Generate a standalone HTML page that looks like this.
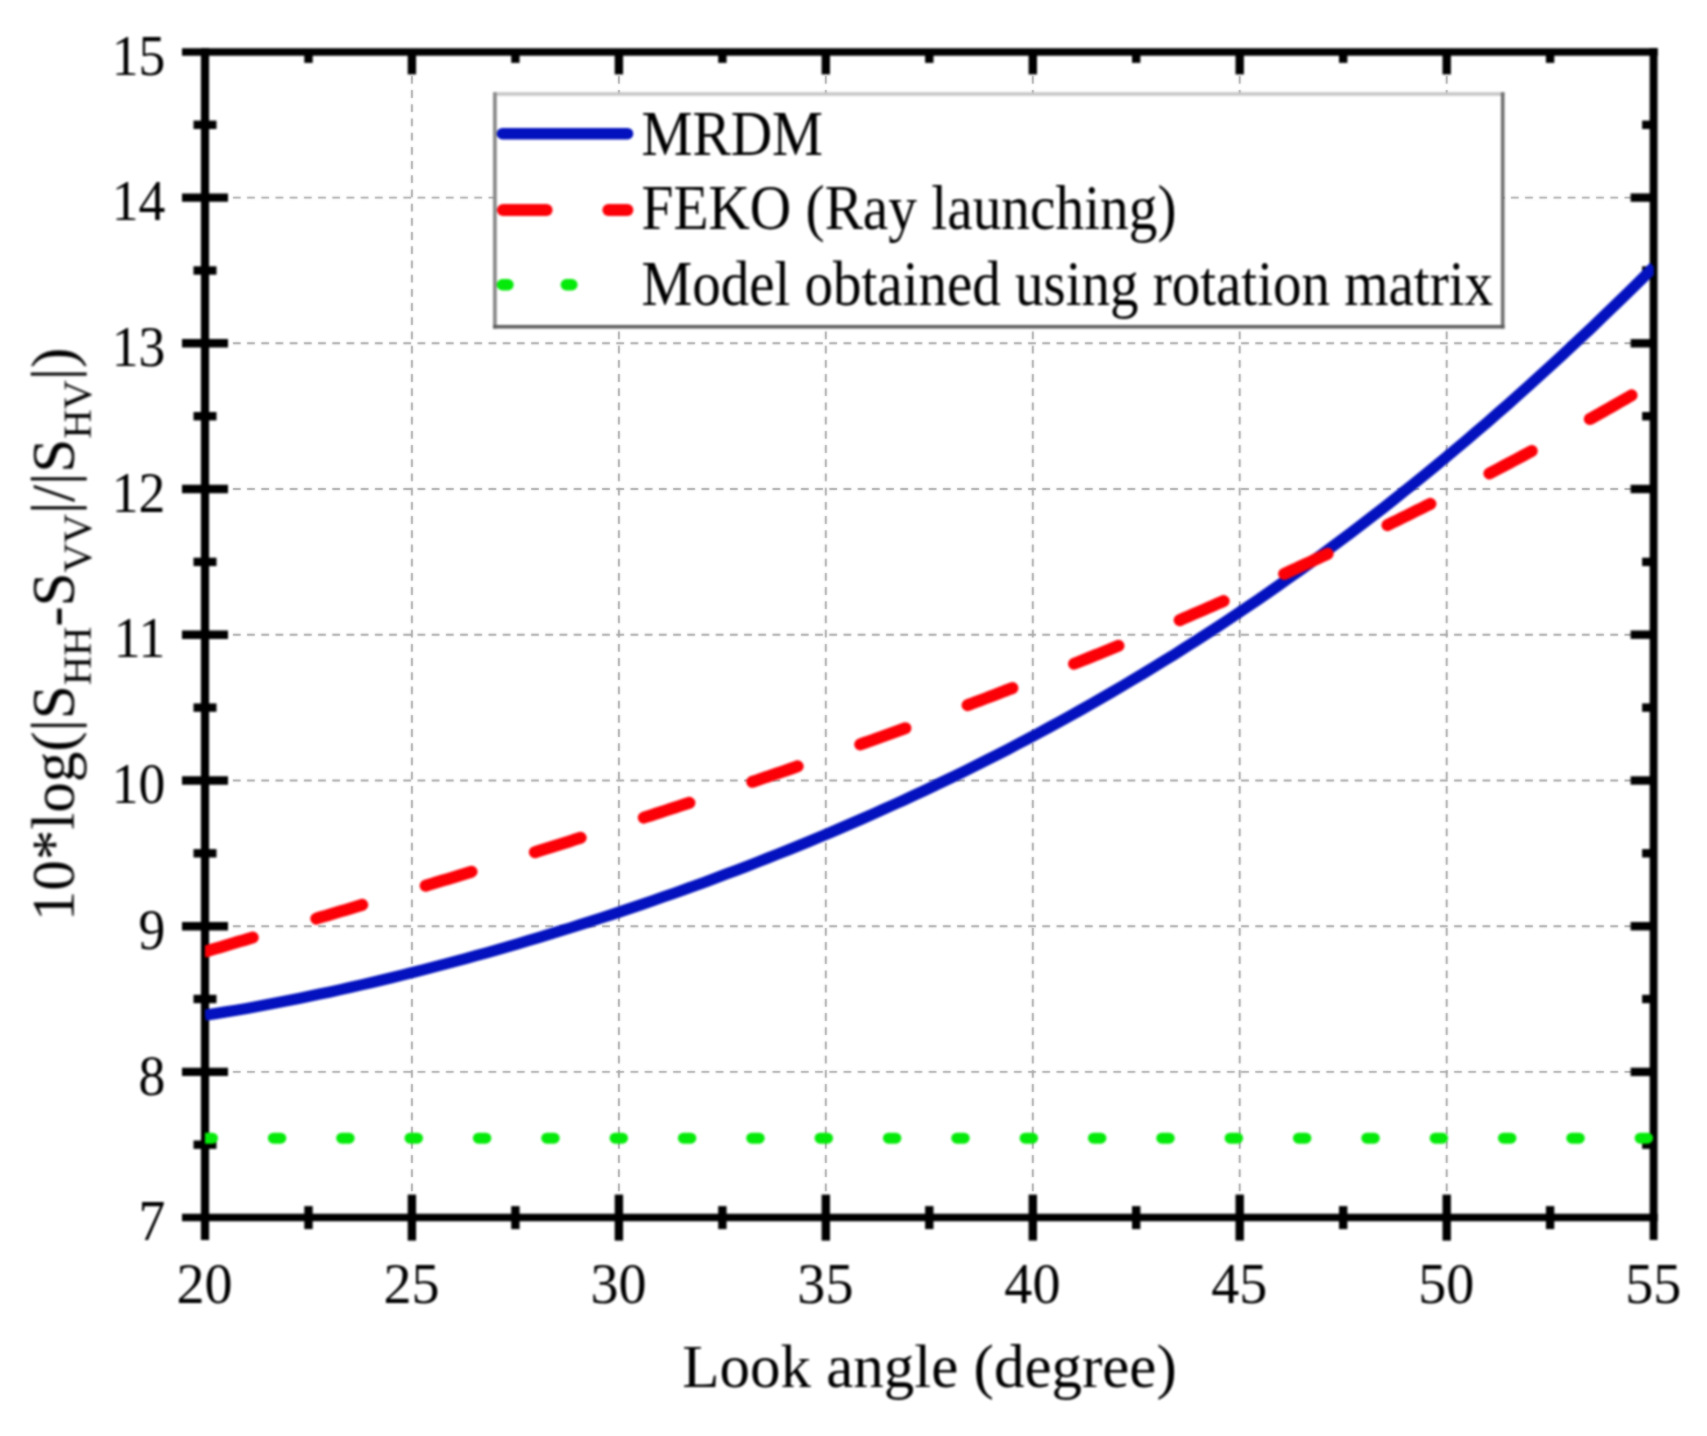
<!DOCTYPE html>
<html lang="en"><head><meta charset="utf-8"><title>Look angle chart</title>
<style>html,body{margin:0;padding:0;background:#fff}body{width:1707px;height:1436px;overflow:hidden}svg{display:block}text{font-family:"Liberation Serif","Times New Roman",serif;fill:#000}.tk{font-family:"Liberation Serif", serif;font-size:55px}</style></head><body>
<svg width="1707" height="1436" viewBox="0 0 1707 1436">
<defs><filter id="half" filterUnits="userSpaceOnUse" x="0" y="0" width="1707" height="1436" color-interpolation-filters="sRGB"><feGaussianBlur stdDeviation="1" result="b"/><feComposite in="SourceGraphic" in2="b" operator="arithmetic" k1="0" k2="0.45" k3="0.55" k4="0"/></filter><filter id="soft" filterUnits="userSpaceOnUse" x="0" y="0" width="1707" height="1436" color-interpolation-filters="sRGB"><feGaussianBlur stdDeviation="1"/></filter><clipPath id="plot"><rect x="205" y="40" width="1448.8" height="1190"/></clipPath></defs>
<rect width="1707" height="1436" fill="#fff"/>
<g stroke="#a4a4a4" stroke-width="1.9" stroke-dasharray="7.8 6.4" fill="none" filter="url(#half)">
<line x1="411.9" y1="61.7" x2="411.9" y2="1213.6"/>
<line x1="618.9" y1="61.7" x2="618.9" y2="1213.6"/>
<line x1="825.8" y1="61.7" x2="825.8" y2="1213.6"/>
<line x1="1032.8" y1="61.7" x2="1032.8" y2="1213.6"/>
<line x1="1239.7" y1="61.7" x2="1239.7" y2="1213.6"/>
<line x1="1446.7" y1="61.7" x2="1446.7" y2="1213.6"/>
<line x1="218.7" y1="1071.9" x2="1649.6" y2="1071.9"/>
<line x1="218.7" y1="926.2" x2="1649.6" y2="926.2"/>
<line x1="218.7" y1="780.5" x2="1649.6" y2="780.5"/>
<line x1="218.7" y1="634.7" x2="1649.6" y2="634.7"/>
<line x1="218.7" y1="489.0" x2="1649.6" y2="489.0"/>
<line x1="218.7" y1="343.3" x2="1649.6" y2="343.3"/>
<line x1="218.7" y1="197.6" x2="1649.6" y2="197.6"/>
</g>
<g filter="url(#soft)">
<g stroke="#000" fill="none">
<line x1="205.0" y1="48.1" x2="205.0" y2="1240.1" stroke-width="8.2"/>
<line x1="1653.6" y1="48.1" x2="1653.6" y2="1240.1" stroke-width="7.9"/>
<line x1="182.0" y1="51.9" x2="1657.7" y2="51.9" stroke-width="7.5"/>
<line x1="182.0" y1="1217.6" x2="1657.7" y2="1217.6" stroke-width="7.5"/>
</g>
<g stroke="#000" fill="none" stroke-width="8.4">
<line x1="308.5" y1="1206.1" x2="308.5" y2="1229.1"/>
<line x1="308.5" y1="51.9" x2="308.5" y2="62.9"/>
<line x1="411.9" y1="1194.6" x2="411.9" y2="1240.6"/>
<line x1="411.9" y1="51.9" x2="411.9" y2="74.4"/>
<line x1="515.4" y1="1206.1" x2="515.4" y2="1229.1"/>
<line x1="515.4" y1="51.9" x2="515.4" y2="62.9"/>
<line x1="618.9" y1="1194.6" x2="618.9" y2="1240.6"/>
<line x1="618.9" y1="51.9" x2="618.9" y2="74.4"/>
<line x1="722.4" y1="1206.1" x2="722.4" y2="1229.1"/>
<line x1="722.4" y1="51.9" x2="722.4" y2="62.9"/>
<line x1="825.8" y1="1194.6" x2="825.8" y2="1240.6"/>
<line x1="825.8" y1="51.9" x2="825.8" y2="74.4"/>
<line x1="929.3" y1="1206.1" x2="929.3" y2="1229.1"/>
<line x1="929.3" y1="51.9" x2="929.3" y2="62.9"/>
<line x1="1032.8" y1="1194.6" x2="1032.8" y2="1240.6"/>
<line x1="1032.8" y1="51.9" x2="1032.8" y2="74.4"/>
<line x1="1136.2" y1="1206.1" x2="1136.2" y2="1229.1"/>
<line x1="1136.2" y1="51.9" x2="1136.2" y2="62.9"/>
<line x1="1239.7" y1="1194.6" x2="1239.7" y2="1240.6"/>
<line x1="1239.7" y1="51.9" x2="1239.7" y2="74.4"/>
<line x1="1343.2" y1="1206.1" x2="1343.2" y2="1229.1"/>
<line x1="1343.2" y1="51.9" x2="1343.2" y2="62.9"/>
<line x1="1446.7" y1="1194.6" x2="1446.7" y2="1240.6"/>
<line x1="1446.7" y1="51.9" x2="1446.7" y2="74.4"/>
<line x1="1550.1" y1="1206.1" x2="1550.1" y2="1229.1"/>
<line x1="1550.1" y1="51.9" x2="1550.1" y2="62.9"/>
<line x1="193.5" y1="1144.7" x2="216.5" y2="1144.7"/>
<line x1="1642.1" y1="1144.7" x2="1653.6" y2="1144.7"/>
<line x1="182.0" y1="1071.9" x2="228.0" y2="1071.9"/>
<line x1="1630.6" y1="1071.9" x2="1653.6" y2="1071.9"/>
<line x1="193.5" y1="999.0" x2="216.5" y2="999.0"/>
<line x1="1642.1" y1="999.0" x2="1653.6" y2="999.0"/>
<line x1="182.0" y1="926.2" x2="228.0" y2="926.2"/>
<line x1="1630.6" y1="926.2" x2="1653.6" y2="926.2"/>
<line x1="193.5" y1="853.3" x2="216.5" y2="853.3"/>
<line x1="1642.1" y1="853.3" x2="1653.6" y2="853.3"/>
<line x1="182.0" y1="780.5" x2="228.0" y2="780.5"/>
<line x1="1630.6" y1="780.5" x2="1653.6" y2="780.5"/>
<line x1="193.5" y1="707.6" x2="216.5" y2="707.6"/>
<line x1="1642.1" y1="707.6" x2="1653.6" y2="707.6"/>
<line x1="182.0" y1="634.7" x2="228.0" y2="634.7"/>
<line x1="1630.6" y1="634.7" x2="1653.6" y2="634.7"/>
<line x1="193.5" y1="561.9" x2="216.5" y2="561.9"/>
<line x1="1642.1" y1="561.9" x2="1653.6" y2="561.9"/>
<line x1="182.0" y1="489.0" x2="228.0" y2="489.0"/>
<line x1="1630.6" y1="489.0" x2="1653.6" y2="489.0"/>
<line x1="193.5" y1="416.2" x2="216.5" y2="416.2"/>
<line x1="1642.1" y1="416.2" x2="1653.6" y2="416.2"/>
<line x1="182.0" y1="343.3" x2="228.0" y2="343.3"/>
<line x1="1630.6" y1="343.3" x2="1653.6" y2="343.3"/>
<line x1="193.5" y1="270.5" x2="216.5" y2="270.5"/>
<line x1="1642.1" y1="270.5" x2="1653.6" y2="270.5"/>
<line x1="182.0" y1="197.6" x2="228.0" y2="197.6"/>
<line x1="1630.6" y1="197.6" x2="1653.6" y2="197.6"/>
<line x1="193.5" y1="124.8" x2="216.5" y2="124.8"/>
<line x1="1642.1" y1="124.8" x2="1653.6" y2="124.8"/>
</g>
<g clip-path="url(#plot)" fill="none" stroke-linejoin="round">
<path d="M205.0,1015.2 L215.4,1013.6 L225.8,1011.9 L236.3,1010.2 L246.7,1008.4 L257.1,1006.5 L267.5,1004.6 L278.0,1002.6 L288.4,1000.6 L298.8,998.5 L309.2,996.3 L319.7,994.1 L330.1,991.9 L340.5,989.6 L350.9,987.3 L361.4,984.9 L371.8,982.5 L382.2,980.0 L392.6,977.5 L403.1,974.9 L413.5,972.3 L423.9,969.6 L434.3,966.9 L444.8,964.2 L455.2,961.4 L465.6,958.6 L476.0,955.7 L486.5,952.8 L496.9,949.8 L507.3,946.8 L517.7,943.8 L528.2,940.7 L538.6,937.6 L549.0,934.4 L559.4,931.2 L569.9,928.0 L580.3,924.7 L590.7,921.4 L601.1,918.0 L611.6,914.6 L622.0,911.1 L632.4,907.6 L642.8,904.1 L653.3,900.5 L663.7,896.8 L674.1,893.2 L684.5,889.4 L694.9,885.7 L705.4,881.9 L715.8,878.0 L726.2,874.1 L736.6,870.2 L747.1,866.2 L757.5,862.1 L767.9,858.0 L778.3,853.9 L788.8,849.7 L799.2,845.5 L809.6,841.2 L820.0,836.8 L830.5,832.5 L840.9,828.0 L851.3,823.5 L861.7,819.0 L872.2,814.4 L882.6,809.7 L893.0,805.0 L903.4,800.3 L913.9,795.4 L924.3,790.6 L934.7,785.6 L945.1,780.6 L955.6,775.6 L966.0,770.5 L976.4,765.3 L986.8,760.0 L997.3,754.7 L1007.7,749.4 L1018.1,743.9 L1028.5,738.5 L1039.0,732.9 L1049.4,727.3 L1059.8,721.6 L1070.2,715.8 L1080.7,710.0 L1091.1,704.1 L1101.5,698.1 L1111.9,692.1 L1122.4,686.0 L1132.8,679.8 L1143.2,673.6 L1153.6,667.2 L1164.1,660.8 L1174.5,654.4 L1184.9,647.8 L1195.3,641.2 L1205.7,634.5 L1216.2,627.7 L1226.6,620.8 L1237.0,613.9 L1247.4,606.9 L1257.9,599.8 L1268.3,592.6 L1278.7,585.3 L1289.1,578.0 L1299.6,570.6 L1310.0,563.1 L1320.4,555.5 L1330.8,547.8 L1341.3,540.0 L1351.7,532.2 L1362.1,524.3 L1372.5,516.3 L1383.0,508.2 L1393.4,500.0 L1403.8,491.7 L1414.2,483.3 L1424.7,474.9 L1435.1,466.4 L1445.5,457.7 L1455.9,449.0 L1466.4,440.2 L1476.8,431.3 L1487.2,422.4 L1497.6,413.3 L1508.1,404.2 L1518.5,394.9 L1528.9,385.6 L1539.3,376.2 L1549.8,366.7 L1560.2,357.1 L1570.6,347.4 L1581.0,337.6 L1591.5,327.8 L1601.9,317.8 L1612.3,307.8 L1622.7,297.7 L1633.2,287.5 L1643.6,277.2 L1654.0,266.8" stroke="#0312be" stroke-width="11.2"/>
<path d="M205.0,951.7 L209.8,950.2 L214.7,948.8 L219.5,947.4 L224.4,945.9 L229.2,944.5 L234.1,943.1 L238.9,941.6 L243.8,940.2 L248.6,938.7 L253.5,937.3 L258.3,935.9 L263.2,934.4 L268.0,933.0 L272.8,931.5 L277.7,930.1 L282.5,928.7 L287.4,927.2 L292.2,925.8 L297.1,924.3 L301.9,922.9 L306.8,921.4 L311.6,920.0 L316.5,918.6 L321.3,917.1 L326.2,915.7 L331.0,914.2 L335.8,912.8 L340.7,911.3 L345.5,909.9 L350.4,908.4 L355.2,907.0 L360.1,905.5 L364.9,904.1 L369.8,902.6 L374.6,901.1 L379.5,899.7 L384.3,898.2 L389.2,896.8 L394.0,895.3 L398.8,893.8 L403.7,892.4 L408.5,890.9 L413.4,889.5 L418.2,888.0 L423.1,886.5 L427.9,885.0 L432.8,883.6 L437.6,882.1 L442.5,880.6 L447.3,879.2 L452.2,877.7 L457.0,876.2 L461.8,874.7 L466.7,873.2 L471.5,871.7 L476.4,870.3 L481.2,868.8 L486.1,867.3 L490.9,865.8 L495.8,864.3 L500.6,862.8 L505.5,861.3 L510.3,859.8 L515.2,858.3 L520.0,856.8 L524.8,855.3 L529.7,853.8 L534.5,852.3 L539.4,850.8 L544.2,849.3 L549.1,847.7 L553.9,846.2 L558.8,844.7 L563.6,843.2 L568.5,841.7 L573.3,840.1 L578.2,838.6 L583.0,837.1 L587.8,835.5 L592.7,834.0 L597.5,832.5 L602.4,830.9 L607.2,829.4 L612.1,827.8 L616.9,826.3 L621.8,824.7 L626.6,823.2 L631.5,821.6 L636.3,820.1 L641.2,818.5 L646.0,816.9 L650.8,815.4 L655.7,813.8 L660.5,812.2 L665.4,810.6 L670.2,809.1 L675.1,807.5 L679.9,805.9 L684.8,804.3 L689.6,802.7 L694.5,801.1 L699.3,799.5 L704.2,797.9 L709.0,796.3 L713.8,794.7 L718.7,793.1 L723.5,791.5 L728.4,789.9 L733.2,788.2 L738.1,786.6 L742.9,785.0 L747.8,783.3 L752.6,781.7 L757.5,780.1 L762.3,778.4 L767.2,776.8 L772.0,775.1 L776.8,773.5 L781.7,771.8 L786.5,770.2 L791.4,768.5 L796.2,766.8 L801.1,765.2 L805.9,763.5 L810.8,761.8 L815.6,760.1 L820.5,758.4 L825.3,756.7 L830.2,755.0 L835.0,753.3 L839.8,751.6 L844.7,749.9 L849.5,748.2 L854.4,746.5 L859.2,744.8 L864.1,743.0 L868.9,741.3 L873.8,739.6 L878.6,737.8 L883.5,736.1 L888.3,734.4 L893.2,732.6 L898.0,730.9 L902.8,729.1 L907.7,727.3 L912.5,725.6 L917.4,723.8 L922.2,722.0 L927.1,720.2 L931.9,718.4 L936.8,716.6 L941.6,714.8 L946.5,713.0 L951.3,711.2 L956.2,709.4 L961.0,707.6 L965.8,705.8 L970.7,704.0 L975.5,702.1 L980.4,700.3 L985.2,698.5 L990.1,696.6 L994.9,694.8 L999.8,692.9 L1004.6,691.0 L1009.5,689.2 L1014.3,687.3 L1019.2,685.4 L1024.0,683.5 L1028.8,681.7 L1033.7,679.8 L1038.5,677.9 L1043.4,676.0 L1048.2,674.1 L1053.1,672.1 L1057.9,670.2 L1062.8,668.3 L1067.6,666.4 L1072.5,664.4 L1077.3,662.5 L1082.2,660.5 L1087.0,658.6 L1091.8,656.6 L1096.7,654.7 L1101.5,652.7 L1106.4,650.7 L1111.2,648.7 L1116.1,646.7 L1120.9,644.7 L1125.8,642.7 L1130.6,640.7 L1135.5,638.7 L1140.3,636.7 L1145.2,634.7 L1150.0,632.7 L1154.8,630.6 L1159.7,628.6 L1164.5,626.5 L1169.4,624.5 L1174.2,622.4 L1179.1,620.4 L1183.9,618.3 L1188.8,616.2 L1193.6,614.1 L1198.5,612.0 L1203.3,609.9 L1208.2,607.8 L1213.0,605.7 L1217.8,603.6 L1222.7,601.5 L1227.5,599.3 L1232.4,597.2 L1237.2,595.0 L1242.1,592.9 L1246.9,590.7 L1251.8,588.6 L1256.6,586.4 L1261.5,584.2 L1266.3,582.0 L1271.2,579.8 L1276.0,577.6 L1280.8,575.4 L1285.7,573.2 L1290.5,571.0 L1295.4,568.8 L1300.2,566.5 L1305.1,564.3 L1309.9,562.1 L1314.8,559.8 L1319.6,557.5 L1324.5,555.3 L1329.3,553.0 L1334.2,550.7 L1339.0,548.4 L1343.8,546.1 L1348.7,543.8 L1353.5,541.5 L1358.4,539.2 L1363.2,536.8 L1368.1,534.5 L1372.9,532.2 L1377.8,529.8 L1382.6,527.5 L1387.5,525.1 L1392.3,522.7 L1397.2,520.3 L1402.0,517.9 L1406.8,515.6 L1411.7,513.1 L1416.5,510.7 L1421.4,508.3 L1426.2,505.9 L1431.1,503.5 L1435.9,501.0 L1440.8,498.6 L1445.6,496.1 L1450.5,493.6 L1455.3,491.2 L1460.2,488.7 L1465.0,486.2 L1469.8,483.7 L1474.7,481.2 L1479.5,478.6 L1484.4,476.1 L1489.2,473.6 L1494.1,471.0 L1498.9,468.5 L1503.8,465.9 L1508.6,463.4 L1513.5,460.8 L1518.3,458.2 L1523.2,455.6 L1528.0,453.0 L1532.8,450.4 L1537.7,447.8 L1542.5,445.2 L1547.4,442.5 L1552.2,439.9 L1557.1,437.2 L1561.9,434.6 L1566.8,431.9 L1571.6,429.2 L1576.5,426.5 L1581.3,423.8 L1586.2,421.1 L1591.0,418.4 L1595.8,415.7 L1600.7,413.0 L1605.5,410.2 L1610.4,407.5 L1615.2,404.7 L1620.1,401.9 L1624.9,399.2 L1629.8,396.4 L1634.6,393.6 L1639.5,390.8 L1644.3,388.0 L1649.2,385.1 L1654.0,382.3" stroke="#fb0007" stroke-width="12" stroke-linecap="round" stroke-dasharray="48 66.26" stroke-dashoffset="-1.8"/>
<path d="M205.0,1138.2 L1653.6,1138.2" stroke="#05ea0a" stroke-width="11" stroke-linecap="round" stroke-dasharray="7.5 60.84"/>
</g>
<g class="tk">
<text transform="translate(204.6,1303.3) scale(1.02,1.04)" text-anchor="middle">20</text>
<text transform="translate(411.5,1303.3) scale(1.02,1.04)" text-anchor="middle">25</text>
<text transform="translate(618.5,1303.3) scale(1.02,1.04)" text-anchor="middle">30</text>
<text transform="translate(825.4,1303.3) scale(1.02,1.04)" text-anchor="middle">35</text>
<text transform="translate(1032.4,1303.3) scale(1.02,1.04)" text-anchor="middle">40</text>
<text transform="translate(1239.3,1303.3) scale(1.02,1.04)" text-anchor="middle">45</text>
<text transform="translate(1446.3,1303.3) scale(1.02,1.04)" text-anchor="middle">50</text>
<text transform="translate(1653.2,1303.3) scale(1.02,1.04)" text-anchor="middle">55</text>
<text transform="translate(165.4,1240.2) scale(0.975,1.045)" text-anchor="end">7</text>
<text transform="translate(165.4,1094.5) scale(0.975,1.045)" text-anchor="end">8</text>
<text transform="translate(165.4,948.8) scale(0.975,1.045)" text-anchor="end">9</text>
<text transform="translate(165.4,803.1) scale(0.975,1.045)" text-anchor="end">10</text>
<text transform="translate(165.4,657.3) scale(0.975,1.045)" text-anchor="end">11</text>
<text transform="translate(165.4,511.6) scale(0.975,1.045)" text-anchor="end">12</text>
<text transform="translate(165.4,365.9) scale(0.975,1.045)" text-anchor="end">13</text>
<text transform="translate(165.4,220.2) scale(0.975,1.045)" text-anchor="end">14</text>
<text transform="translate(165.4,74.5) scale(0.975,1.045)" text-anchor="end">15</text>
</g>
<text x="929.5" y="1387" text-anchor="middle" font-size="61">Look angle (degree)</text>
<text transform="translate(73.7,921.2) rotate(-90)" font-size="61">10*log(|S<tspan font-size="40.5" dy="17">HH</tspan><tspan dy="-17">-S</tspan><tspan font-size="40.5" dy="17">VV</tspan><tspan dy="-17">|/|S</tspan><tspan font-size="40.5" dy="17">HV</tspan><tspan dy="-17">|)</tspan></text>
<g>
<rect x="494.7" y="93.8" width="1008" height="233" fill="#fff"/>
<line x1="493" y1="94" x2="1504.5" y2="94" stroke="#c6c6c6" stroke-width="3.6"/>
<line x1="494.9" y1="92.2" x2="494.9" y2="328.6" stroke="#8a8a8a" stroke-width="3.8"/>
<line x1="1502.7" y1="92.2" x2="1502.7" y2="328.6" stroke="#6e6e6e" stroke-width="3.6"/>
<line x1="493" y1="326.8" x2="1504.5" y2="326.8" stroke="#5c5c5c" stroke-width="3.6"/>
<line x1="502.5" y1="133.7" x2="627.5" y2="133.7" stroke="#0312be" stroke-width="11.6" stroke-linecap="round"/>
<line x1="503" y1="210" x2="546.6" y2="210" stroke="#fb0007" stroke-width="12" stroke-linecap="round"/>
<line x1="608.4" y1="210" x2="627.4" y2="210" stroke="#fb0007" stroke-width="12" stroke-linecap="round"/>
<line x1="502.4" y1="284.7" x2="508" y2="284.7" stroke="#05ea0a" stroke-width="11.4" stroke-linecap="round"/>
<line x1="566.3" y1="284.7" x2="571.9" y2="284.7" stroke="#05ea0a" stroke-width="11.4" stroke-linecap="round"/>
<g font-size="62.5">
<text x="641.5" y="155.4" textLength="181.5" lengthAdjust="spacingAndGlyphs">MRDM</text>
<text x="641.5" y="229.2" textLength="535" lengthAdjust="spacingAndGlyphs">FEKO (Ray launching)</text>
<text x="641.5" y="305.4" textLength="851.5" lengthAdjust="spacingAndGlyphs">Model obtained using rotation matrix</text>
</g></g>
</g>
</svg></body></html>
